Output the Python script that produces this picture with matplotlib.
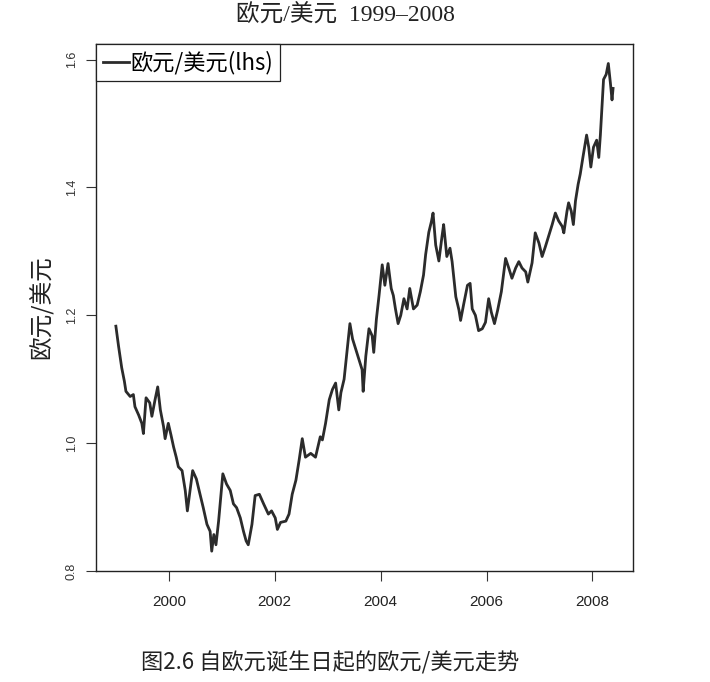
import matplotlib
matplotlib.use("Agg")
import matplotlib.pyplot as plt

plt.rcParams['font.family'] = ['Noto Sans CJK SC', 'DejaVu Sans']

# =====================
# data (decimal year, EUR/USD)
# =====================
years_1999 = [1999.00, 1999.05, 1999.11, 1999.16, 1999.19, 1999.27, 1999.33, 1999.36, 1999.43, 1999.49,
              1999.52, 1999.57, 1999.64, 1999.68, 1999.74, 1999.79, 1999.84, 1999.90, 1999.93, 1999.99]
rate_1999 = [1.183, 1.152, 1.118, 1.097, 1.081, 1.073, 1.076, 1.057, 1.044, 1.031,
             1.015, 1.071, 1.063, 1.042, 1.068, 1.088, 1.052, 1.026, 1.007, 1.031]

years_2000 = [2000.04, 2000.09, 2000.14, 2000.18, 2000.25, 2000.31, 2000.35, 2000.40, 2000.45, 2000.52,
              2000.59, 2000.65, 2000.72, 2000.78, 2000.81, 2000.85, 2000.89, 2000.94, 2000.98]
rate_2000 = [1.013, 0.994, 0.978, 0.963, 0.957, 0.926, 0.894, 0.926, 0.957, 0.944,
             0.920, 0.899, 0.873, 0.862, 0.831, 0.857, 0.841, 0.878, 0.915]

years_2001 = [2001.02, 2001.09, 2001.16, 2001.22, 2001.28, 2001.35, 2001.41, 2001.46, 2001.50, 2001.57,
              2001.63, 2001.71, 2001.79, 2001.88, 2001.94, 2002.01]
rate_2001 = [0.952, 0.936, 0.926, 0.905, 0.899, 0.883, 0.862, 0.847, 0.841, 0.873,
             0.918, 0.920, 0.905, 0.889, 0.894, 0.883]

years_2002 = [2002.05, 2002.11, 2002.21, 2002.27, 2002.33, 2002.40, 2002.46, 2002.52, 2002.58, 2002.68,
              2002.77, 2002.86, 2002.90, 2002.96]
rate_2002 = [0.865, 0.876, 0.878, 0.889, 0.920, 0.942, 0.973, 1.007, 0.978, 0.984,
             0.978, 1.010, 1.005, 1.031]

years_2003 = [2003.03, 2003.09, 2003.15, 2003.21, 2003.25, 2003.31, 2003.37, 2003.42, 2003.47, 2003.53,
              2003.59, 2003.65, 2003.67, 2003.72, 2003.78, 2003.84, 2003.87, 2003.92, 2003.97]
rate_2003 = [1.068, 1.084, 1.094, 1.052, 1.079, 1.100, 1.147, 1.187, 1.163, 1.147,
             1.131, 1.115, 1.081, 1.136, 1.179, 1.168, 1.142, 1.194, 1.231]

years_2004 = [2004.03, 2004.08, 2004.14, 2004.20, 2004.24, 2004.28, 2004.33, 2004.38, 2004.44, 2004.50,
              2004.55, 2004.62, 2004.69, 2004.75, 2004.81, 2004.85, 2004.91, 2004.96, 2004.99]
rate_2004 = [1.279, 1.247, 1.281, 1.242, 1.231, 1.210, 1.187, 1.200, 1.226, 1.210,
             1.242, 1.210, 1.216, 1.237, 1.263, 1.295, 1.330, 1.347, 1.360]

years_2005 = [2005.04, 2005.10, 2005.16, 2005.19, 2005.25, 2005.31, 2005.35, 2005.42, 2005.48, 2005.51,
              2005.57, 2005.64, 2005.69, 2005.73, 2005.79, 2005.85, 2005.92, 2005.98]
rate_2005 = [1.310, 1.285, 1.324, 1.342, 1.292, 1.305, 1.284, 1.229, 1.208, 1.192,
             1.218, 1.247, 1.250, 1.210, 1.200, 1.176, 1.179, 1.189]

years_2006 = [2006.04, 2006.09, 2006.15, 2006.21, 2006.28, 2006.36, 2006.42, 2006.48, 2006.55, 2006.61,
              2006.67, 2006.74, 2006.78, 2006.86, 2006.92, 2006.99]
rate_2006 = [1.226, 1.205, 1.187, 1.208, 1.237, 1.289, 1.274, 1.258, 1.274, 1.284,
             1.274, 1.268, 1.252, 1.282, 1.329, 1.313]

years_2007 = [2007.05, 2007.11, 2007.18, 2007.24, 2007.30, 2007.36, 2007.43, 2007.46, 2007.52, 2007.55,
              2007.60, 2007.64, 2007.68, 2007.73, 2007.77, 2007.82, 2007.89, 2007.93, 2007.97]
rate_2007 = [1.292, 1.307, 1.326, 1.342, 1.360, 1.348, 1.339, 1.329, 1.363, 1.376,
             1.363, 1.342, 1.379, 1.405, 1.421, 1.447, 1.482, 1.463, 1.432]

years_2008 = [2008.02, 2008.08, 2008.12, 2008.15, 2008.18, 2008.21, 2008.26, 2008.30, 2008.34, 2008.37,
              2008.39]
rate_2008 = [1.463, 1.474, 1.447, 1.482, 1.527, 1.569, 1.577, 1.594, 1.563, 1.537,
             1.555]

x_ticks = [2000, 2002, 2004, 2006, 2008]
y_ticks = [0.8, 1.0, 1.2, 1.4, 1.6]

years = (years_1999 + years_2000 + years_2001 + years_2002 + years_2003 +
         years_2004 + years_2005 + years_2006 + years_2007 + years_2008)
rates = (rate_1999 + rate_2000 + rate_2001 + rate_2002 + rate_2003 +
         rate_2004 + rate_2005 + rate_2006 + rate_2007 + rate_2008)

# =====================
# plot
# =====================
fig = plt.figure(figsize=(7.1, 6.82), dpi=100)
ax = fig.add_axes([0.1352, 0.1628, 0.7563, 0.7727])

ax.plot(years, rates, color='#2b2b2b', lw=2.0, label='欧元/美元(lhs)')
ax.margins(x=0.04, y=0.04)

ax.set_xticks(x_ticks)
ax.set_xticklabels([str(t) for t in x_ticks], family=['Liberation Sans', 'DejaVu Sans'],
                   fontsize=11, color='#222222')
ax.set_yticks(y_ticks)
ax.set_yticklabels(['%.1f' % t for t in y_ticks], family=['Liberation Sans', 'DejaVu Sans'],
                   fontsize=9, color='#333333', rotation=90, va='center')
ax.tick_params(axis='x', length=7, pad=10, color='#333333')
ax.tick_params(axis='y', length=7, pad=6, color='#333333')
for s in ax.spines.values():
    s.set_color('#222222')
    s.set_linewidth(1.0)

ax.set_ylabel('欧元/美元', fontsize=17, labelpad=9, color='#222222')

leg = ax.legend(loc='upper left', borderaxespad=0, handlelength=1.2, handletextpad=0.05,
                fancybox=False, edgecolor='#222222', framealpha=1, fontsize=16,
                borderpad=0.3, handleheight=0.6)
leg.get_frame().set_linewidth(0.9)

fig.text(0.487, 0.977, '欧元/美元  1999–2008', ha='center', va='center', fontsize=17,
         family=['Liberation Serif', 'Noto Sans CJK SC'], color='#222222')
fig.text(0.4655, 0.028, '图2.6 自欧元诞生日起的欧元/美元走势', ha='center', va='center',
         fontsize=16, color='#222222')

plt.savefig('out.png', dpi=100)
